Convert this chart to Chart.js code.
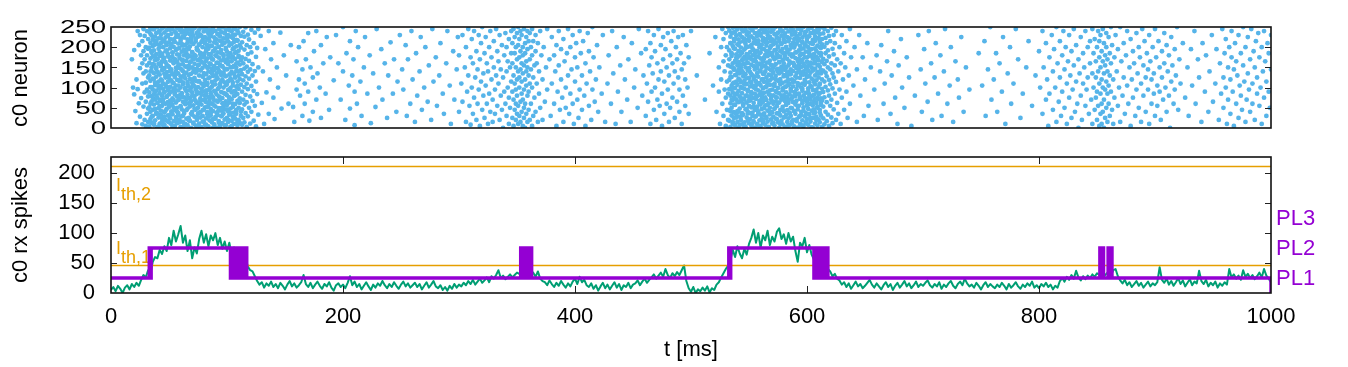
<!DOCTYPE html>
<html>
<head>
<meta charset="utf-8">
<script src="https://cdn.jsdelivr.net/npm/chart.js@4.4.0/dist/chart.umd.min.js"></script>
<style>
  body { margin: 0; background: #fff; }
  #wrap { position: relative; width: 1348px; height: 367px; }
  canvas { position: absolute; left: 0; }
  #raster { top: 0; }
  #rx { top: 140px; }
</style>
</head>
<body>
<div id="wrap">
  <canvas id="raster" width="1348" height="140"></canvas>
  <canvas id="rx" width="1348" height="227"></canvas>
</div>
<script>
// Raster rows: [t (ms), neuron ids that spiked at t ...]
const spikesOnset = [
  [18,170],[19,100],[20,193,83],[21,42],[22,120,12],[23,240,96],[24,61,205],[25,148,28,230],[26,180,74],
  [27,9,110,215,160],[28,53,245,135,190],[29,88,20,170,228],[30,140,65,200,5,112],[31,35,180,95,240,155],
  [32,78,220,125,15,196,48]
];

const spikesBurstA = [
  [33,4,51,88,130,161,199,238],[34,22,40,101,117,172,211,247],[35,13,66,79,141,150,186,229],
  [36,30,45,95,122,177,203,219],[37,8,58,84,136,157,192,244],[38,19,70,106,112,168,214,226],
  [39,35,38,92,127,146,183,235],[40,2,62,75,139,171,207,249],[41,26,49,99,115,159,196,222],
  [42,11,67,86,132,178,188,240],[43,33,43,104,120,153,210,231],[44,16,55,80,143,165,181,246],
  [45,6,71,97,110,174,200,217],[46,28,39,89,134,148,215,236],[47,20,60,107,125,163,190,224],
  [48,1,47,77,138,156,205,242],[49,31,64,94,114,179,184,228],[50,14,52,83,129,151,212,250],
  [51,24,68,102,142,167,197,220],[52,9,41,90,118,145,208,233],[53,34,57,73,133,176,187,245],
  [54,17,69,98,111,160,201,218],[55,5,44,87,126,170,213,239],[56,27,63,105,140,149,193,225],
  [57,12,50,78,119,164,182,248],[58,32,37,93,135,155,209,230],[59,21,72,81,116,173,198,243],
  [60,3,54,100,128,147,216,221],[61,29,46,85,144,169,189,237],[62,15,65,108,113,158,204,227],
  [63,36,42,76,131,180,194,241],[64,10,59,96,123,152,206,232],[65,23,70,91,137,166,185,249],
  [66,7,48,82,109,175,211,219],[67,25,61,103,146,154,195,234],[68,18,53,74,121,162,202,244],
  [69,0,66,99,134,177,217,223],[70,33,40,88,112,150,188,238],[71,13,56,106,139,171,208,229],
  [72,28,71,79,124,159,181,247],[73,6,45,95,117,178,214,220],[74,20,62,84,141,146,199,235],
  [75,35,50,101,115,168,192,226],[76,11,38,87,130,157,207,243],[77,26,67,73,143,173,186,231],
  [78,2,58,97,110,164,213,250],[79,30,44,90,127,149,200,218],[80,16,69,104,136,179,184,239],
  [81,8,51,80,119,155,210,225],[82,24,64,93,133,166,191,246],[83,34,39,107,111,172,205,221],
  [84,4,55,77,140,151,196,233],[85,19,72,98,125,160,215,242],[86,31,47,86,138,176,183,228],
  [87,14,60,102,114,147,203,236],[88,22,42,75,129,169,190,248],[89,9,68,92,144,153,212,224],
  [90,27,53,108,118,180,197,240],[91,1,37,83,135,161,209,219],[92,32,65,96,122,148,187,232],
  [93,17,49,78,142,174,201,245],[94,5,70,103,109,156,216,227],[95,29,43,89,131,167,193,237],
  [96,12,61,74,120,152,206,249],[97,36,54,100,137,178,182,222],[98,21,46,85,113,145,211,234],
  [99,7,66,106,128,163,198,243],[100,25,57,81,145,170,189,220],[101,15,41,94,116,158,214,230],
  [102,33,63,76,132,175,204,246],[103,3,48,99,123,150,185,226],[104,18,71,88,139,165,208,239],
  [105,28,52,105,112,177,195,223],[106,10,38,79,134,154,213,247],[107,23,59,91,126,171,186,231],
  [108,35,45,102,141,149,202,218],[109,6,67,84,115,162,217,241],[110,20,50,97,130,179,191,235],
  [111,13,62,73,121,157,205,250],[112,30,40,107,143,168,199,228],
  [113,8,46,90,133,175,212],[114,25,70,118,160,238],[115,14,58,101,147,194,226],[116,37,82,128,171,249],
  [117,3,64,110,152,205],[118,29,96,139,183,231],[119,50,122,166,219],[120,11,78,145,200],
  [121,40,104,187,243],[122,67,130,158],[123,18,92,210],[124,55,141,236],[125,4,115,176],
  [126,84,198],[127,33,150,245]
];

// second group of spikes inside the first burst
const spikesBurstAFill = [
  [34,60,140,233],[35,28,101,190],[36,75,158,245],[37,12,121,205],[38,47,92,178],[39,81,150,215],
  [40,36,108,170],[41,4,135,238],[42,55,97,200],[43,70,160,222],[44,24,117,184],[45,62,145,249],
  [46,9,88,173],[47,43,129,211],[48,78,102,192],[49,17,154,230],[50,58,124,176],[51,33,90,243],
  [52,66,139,203],[53,2,112,186],[54,50,163,219],[55,83,96,170],[56,21,133,235],[57,40,148,196],
  [58,69,105,226],[59,14,157,181],[60,53,119,247],[61,77,86,208],[62,30,141,168],[63,6,126,224],
  [64,63,99,189],[65,44,152,241],[66,73,114,199],[67,19,131,179],[68,57,93,232],[69,35,165,213],
  [70,80,120,187],[71,11,147,246],[72,48,103,172],[73,67,137,221],[74,26,90,194],[75,3,155,237],
  [76,59,116,206],[77,39,143,182],[78,82,97,228],[79,16,128,249],[80,45,161,175],[81,71,110,214],
  [82,8,85,197],[83,52,149,239],[84,29,123,183],[85,64,94,225],[86,38,158,204],[87,79,136,171],
  [88,1,107,244],[89,56,144,191],[90,23,89,218],[91,68,127,178],[92,41,162,233],[93,13,100,201],
  [94,76,138,248],[95,49,115,185],[96,32,153,212],[97,61,87,169],[98,7,130,236],[99,84,146,195],
  [100,46,109,227],[101,20,164,180],[102,72,95,242],[103,37,134,209],[104,5,118,174],[105,60,151,230],
  [106,27,91,198],[107,81,125,245],[108,42,159,188],[109,15,104,216],[110,65,140,176]
];

const spikesQuietA = [
  [129,228],[130,62],[131,140],[132,10],[133,195],[134,88],[136,240,35],[137,120],[138,170],[140,75,210],
  [141,22],[143,150],[144,100],[146,236],[147,48],[149,180],[151,130],[153,60],[155,205],[157,52],[158,15],
  [160,95,165],[162,200,120],[163,80],[165,145,30],[166,215],[167,110,60],[168,170],[170,235,90],[171,18],
  [172,150],[174,125,40],[175,190],[177,70,240],[178,135],[180,100],[181,205,25],[183,160],[185,85],
  [186,225],[188,45],[189,175],[192,118],[194,230],[196,160],[198,70],[200,140,250],[202,20],[203,185],
  [205,105],[206,48,215],[208,130],[209,170],[210,7,90],[211,240],[212,60],[213,200],[215,115],[216,30],
  [218,150],[219,225],[221,85],[223,180],[224,12],[226,135],[228,52],[229,245],[231,100],[233,195],
  [234,70],[236,160],[238,25],[239,130],[241,212],[243,85],[244,170],[246,40],[247,115],[249,230],
  [251,145],[252,95],[254,205],[255,30],[256,170],[258,60],[259,240],[260,120],[262,15],[263,185],
  [264,80],[266,140],[267,225],[268,45],[270,100],[271,200],[273,65],[274,155],[276,20],[277,245],
  [278,115],[280,175],[281,55],[283,130],[284,210],[286,85],[287,35],[289,160],[290,240],[292,105],
  [293,10],[295,190],[296,70],[298,145],[299,225],
  [300,40,180],[302,110],[303,230,65],[305,150],[306,15,200],[307,90],[308,245,130],[309,55],[310,175,8],
  [311,100,220],[312,35,160],[313,75,240],[314,125],[315,190,20],[316,60,145],[317,230,95],[318,5,170],
  [319,115,210],[320,45,250],[321,135,80],[322,185,25],[323,105,225],[324,160,60],[325,10,140],
  [326,200,85],[327,40,240],[328,120,175],[329,70,15],[330,215,150],[331,95,35],[332,245,130],
  [333,55,190],[334,165,110],[335,20,230],[336,80,145],[337,205,45],[338,125,0],[339,180,90],
  [340,60,235],[341,140,30,200],[342,100,165],[343,10,220,75],[344,150,50],[345,240,115,185],
  [346,25,90,160,210],[347,130,5,70,245],[348,185,45,110,225],[349,60,150,20,200,95],
  [350,235,120,35,170,80],[351,10,140,205,55,250],[352,100,175,30,220,125],[353,65,190,145,15,240],
  [354,85,160,40,230,115],[355,200,5,135,70,180],[356,25,245,95,155,50],[357,120,210,60,185,0],
  [358,165,35,105,225,140],[359,80,195,15,150,240],[360,45,130,215,90],[361,170,20,235,110],
  [362,60,145,200],[363,100,5,180,245],[364,30,125,215],[365,155,75],[366,230,40,190],[367,110,160],
  [368,15,210],[369,85,140],[370,240,50],[371,180],[372,120,20],[373,200],[374,65],[375,150],[376,245,95],
  [378,170],[379,30],[380,110,225],[382,60,180],[383,140],[384,5,205],[385,90],[386,155,240],[387,45],
  [388,120,195],[389,75],[390,220,15],[391,165],[392,100,50],[393,185],[394,130,245],[395,35],
  [396,200,85],[397,145],[398,60,230],[399,10],[400,175,115],[401,210],[402,70,150],[403,25],
  [404,240,95],[405,185],[406,130,45],[407,215],[408,80],[409,160,5],[410,110],[411,235],[412,55,190],
  [413,140],[414,20],[415,95,250],[416,175],[417,65],[418,120],[419,205],[420,40],[421,150],[423,85],
  [424,230],[426,15],[428,110],[429,180],[431,60],[432,240],[433,135],[435,10],[436,200],[437,90],
  [439,155],[440,40],[442,225],[443,120],[445,70],[446,170],[448,15],[449,210],[451,100],[452,145],
  [454,50],[455,245],[457,185],[458,80],[459,130],
  [461,30,195],[462,110],[463,240,65],[464,155],[465,10,210],[466,90,175],[467,135],[468,45,230],
  [469,190,100],[470,20],[471,160,70],[472,245,120],[473,55],[474,205,140],[475,85,5],[476,170,225],
  [477,35,115],[478,195],[479,60,150],[480,235,95],[481,130,15],[482,180,50],[483,215],[484,75,160],
  [485,110,240],[486,25,140],[487,200],[488,65,170],[489,125,225],[490,40,95],[491,185],[492,145,10],
  [493,230,80],[494,160],[495,55,120],[496,205],[497,100],[498,35,175],[500,240],
  [505,130],[512,70],[516,185],[519,105],[521,225],[522,40],[524,150,90],[525,10],[526,200,120],
  [527,60,245],[528,165,30,220]
];

const spikesBurstB = [
  [529,95,140],[530,5,180,75,235],[531,115,45,200],[532,155,20,250,85],
  [533,18,44,96,119,170,192,241],[534,3,61,80,137,152,210,226],[535,31,50,104,126,178,185,234],
  [536,11,69,88,110,160,203,248],[537,25,39,75,144,147,214,220],[538,7,57,99,131,166,196,238],
  [539,34,71,83,115,174,182,229],[540,15,42,107,139,155,207,244],[541,0,64,92,122,163,190,219],
  [542,28,48,78,135,179,212,232],[543,20,66,101,113,149,199,250],[544,9,37,86,141,168,186,225],
  [545,33,59,72,128,158,215,239],[546,14,70,97,117,176,194,221],[547,4,46,108,133,150,208,245],
  [548,26,63,81,109,171,183,231],[549,36,40,94,143,161,201,218],[550,12,55,77,124,146,216,236],
  [551,22,68,103,138,173,188,247],[552,6,51,89,112,157,205,227],[553,30,38,74,130,180,197,242],
  [554,17,62,100,121,153,211,222],[555,1,45,85,145,169,184,235],[556,29,72,106,116,164,209,249],
  [557,10,53,79,136,148,191,228],[558,35,41,93,127,177,213,217],[559,19,67,82,111,159,200,240],
  [560,5,58,105,142,172,187,233],[561,24,47,73,120,151,206,246],[562,13,65,98,134,165,216,223],
  [563,32,36,87,114,175,195,237],[564,8,56,76,140,154,181,244],[565,27,69,102,125,162,204,220],
  [566,16,43,90,108,178,212,230],[567,2,61,84,132,147,189,248],[568,34,50,107,118,167,198,226],
  [569,21,71,78,143,156,215,238],[570,11,39,95,123,180,186,219],[571,28,60,81,137,150,207,243],
  [572,6,48,104,110,170,193,232],[573,23,66,91,129,158,210,250],[574,36,54,75,144,174,183,224],
  [575,14,37,99,117,146,202,236],[576,0,63,86,135,163,214,221],[577,31,45,108,121,176,190,245],
  [578,18,70,80,139,152,208,229],[579,9,52,93,112,168,196,240],[580,26,41,73,131,160,185,218],
  [581,3,67,101,144,179,213,234],[582,33,57,88,115,149,201,247],[583,15,44,77,127,171,188,225],
  [584,24,62,106,138,155,216,239],[585,7,38,83,109,165,194,222],[586,30,71,97,133,145,205,249],
  [587,12,49,74,120,177,182,231],[588,20,64,103,141,161,211,243],[589,4,42,89,116,153,199,220],
  [590,35,58,79,128,173,187,237],[591,17,68,96,136,148,209,228],[592,1,46,105,111,166,215,246],
  [593,27,55,85,143,157,192,219],[594,10,72,76,124,180,203,233],[595,32,40,100,132,151,184,242],
  [596,19,61,92,110,169,212,224],[597,5,51,81,140,159,197,250],[598,29,69,107,119,175,206,230],
  [599,13,37,87,134,146,189,238],[600,22,65,72,126,164,214,221],[601,8,47,98,142,154,200,244],
  [602,34,59,84,113,178,185,227],[603,16,70,104,137,162,210,235],[604,2,43,78,122,150,195,248],
  [605,25,56,94,145,172,208,218],[606,36,66,82,114,160,183,240],[607,11,39,108,130,147,216,226],
  [608,28,62,90,118,176,191,237],[609,6,50,75,139,156,204,245],[610,21,71,101,125,168,186,223],
  [611,14,45,86,109,152,213,232],[612,31,57,73,135,179,198,249],[613,3,68,97,120,163,207,220],
  [614,24,53,89,142,171,234],[615,9,76,115,158,201,245],[616,40,102,137,185,223],[617,17,64,128,166,210],
  [618,33,93,150,192,240],[619,5,80,119,177,228],[620,55,108,145,215],[621,26,70,160,248],
  [622,12,98,135,196],[623,46,125,182,230],[624,85,155,210],[625,20,114,240],[626,62,170],[627,140,35],
  [628,200,95],[629,10,160],[630,230,75],[631,120],[632,45,185],[633,150],[634,215,90],[635,25],
  [636,130],[637,245,60],[638,175],[640,105],[641,200],[643,15,145]
];

// second group of spikes inside the second burst
const spikesBurstBFill = [
  [534,42,126,210],[535,70,95,183],[536,15,150,236],[537,58,112,197],[538,83,163,220],[539,26,131,249],
  [540,65,87,174],[541,40,145,205],[542,8,119,231],[543,74,156,188],[544,31,99,243],[545,55,137,171],
  [546,2,108,214],[547,79,160,198],[548,47,123,238],[549,19,91,180],[550,68,148,225],[551,37,115,202],
  [552,84,133,170],[553,11,104,247],[554,52,166,193],[555,28,127,218],[556,76,96,176],[557,44,154,235],
  [558,6,110,207],[559,61,140,185],[560,33,89,229],[561,80,158,196],[562,18,121,244],[563,49,134,172],
  [564,71,101,212],[565,24,149,190],[566,57,116,237],[567,3,162,181],[568,82,93,222],[569,39,130,203],
  [570,66,143,246],[571,13,106,175],[572,48,155,216],[573,77,120,192],[574,22,88,233],[575,63,139,199],
  [576,35,163,177],[577,9,111,241],[578,73,147,209],[579,45,98,186],[580,81,128,226],[581,27,152,173],
  [582,59,103,249],[583,4,136,194],[584,69,119,215],[585,36,160,182],[586,50,92,239],[587,16,141,200],
  [588,78,114,178],[589,41,157,232],[590,64,86,206],[591,21,125,187],[592,54,151,224],[593,84,107,171],
  [594,30,138,245],[595,7,164,196],[596,67,97,213],[597,43,132,183],[598,75,153,236],[599,12,113,204],
  [600,56,146,175],[601,34,90,227],[602,79,129,192],[603,25,159,248],[604,60,102,210],[605,1,142,180],
  [606,46,117,234],[607,72,165,197],[608,20,94,221],[609,53,135,173],[610,83,156,242],[611,38,109,200],
  [612,62,144,185]
];

const spikesQuietB = [
  [645,230],[646,80],[648,175],[649,30],[650,120],[652,210],[653,55],[655,150],[658,95],[660,180],
  [661,20],[663,140],[664,205],[666,60],[667,110],[669,165],[670,240],[672,35],[673,130],[675,190],
  [676,75],[678,10],[679,155],[681,220],[682,100],[684,50],[686,175],[688,125],[690,5],[693,80],
  [696,230],[698,145],[699,40],[701,195],[702,110],[704,65],[705,240],[707,160],[708,20],[710,125],
  [711,210],[713,85],[715,180],[716,30],[718,140],[719,245],[721,60],[723,105],[724,200],[726,15],
  [728,165],[730,120],[731,75],[733,225],[735,40],[737,150],[740,95],[748,185],[751,105],[753,215],
  [754,30],[756,145],[758,250],[759,70],[761,120],[763,185],[764,40],[766,160],[768,90],[769,225],
  [771,10],[773,135],[775,200],[776,60],[778,110],[780,245],[782,170],[784,25],[786,85],[789,150],
  [791,215],[794,55],[797,130],
  [800,190],[801,100],[803,240,35],[804,150],[806,70,210],[807,120],[808,5],[809,175,85],[811,230],
  [812,45,140],[813,195],[814,100],[815,15,250],[816,160],[817,65],[818,215,125],[819,30],[820,180,90],
  [821,240],[822,50,145],[823,200],[824,110,10],[825,165],[826,75,230],[827,130],[828,25,190],[829,95],
  [830,155,245],[831,40],[832,205,115],[833,60],[834,170,0],[835,135],[836,225,80],[837,20],
  [838,185,110],[839,150],[840,55,240],[841,95],[842,200,125],[843,35],[844,160,215],[845,70],
  [846,135,10,245],[847,100,185],[848,45,220],[849,165,75,125],[850,20,200,90],[851,140,240,55],
  [852,110,175,5,215],[853,85,150,35,230],[854,190,60,120,10],[855,245,100,165,40],[856,70,210,135,0],
  [857,180,25,95,155],[858,115,235,50,200],[859,15,140,85,170],[860,225,60,105],[861,185,30,130],
  [862,90,250,160],[863,45,205],[864,120,10],[865,175,75],
  [866,230],[867,140],[868,55,195],[869,100],[870,15,250],[871,165],[872,80],[873,210,125],[874,35],
  [875,180],[876,105,240],[877,60],[878,150],[879,5,220],[880,120],[881,75,190],[882,160],[883,30],
  [884,235,95],[885,135],[886,50,200],[887,175],[888,110,15],[889,245],[890,80,155],[891,215],
  [892,125,40],[893,185],[894,95,145],[895,230,10],[896,165],[897,60,120],[898,200],[899,135,85],
  [900,245,30],[901,175],[902,105,55],[903,215],[904,150,90],[905,20],[906,190,125],[907,70],
  [908,235,160],[909,100],[910,40,205],[911,140],[912,80,180],[913,0],[914,225,115],[915,155],[916,60],
  [917,195,95],[918,130],[919,250],[920,45],[921,170],[922,110],[924,210],
  [926,75],[928,150],[929,30],[931,195],[932,105],[934,240],[935,60],[937,170],[938,125],[940,15],
  [941,210],[943,90],[944,180],[946,40],[947,140],[949,230],[950,65],[952,110],[953,195],[955,20],
  [956,160],[957,85],[958,245],[959,125,50],[960,185],[961,100,220],[962,10],[963,150,70],[964,200],
  [965,120,35],[966,240,175],[967,90],[968,145,5],[969,210],[970,60,165],[971,130],[972,230,25],
  [973,105],[974,185,80],[975,45],[976,155,250],[977,115],[978,200,15],[979,70],[980,135,225],
  [981,95],[982,170,40],[983,245],[984,110,60],[985,190],[986,20,150],[987,215],[988,85,125],
  [989,235],[990,55,175],[991,100],[992,200,10],[993,140],[994,75,240],[995,165],[996,30,115],
  [997,210],[998,90,185],[999,50],[1000,145,230]
];

// c0 rx spikes, sampled every 2 ms from t = 0
const rxStartMs = 0;
const rxStepMs = 2;
const rxSpikes = [
  5, 10, 3, 12, 7, 0, 9, 13, 6, 15, 10, 17, 12,          // 0-24
  22, 30, 26, 38, 33, 52, 60,                             // 26-38
  58, 72, 65, 78, 70, 92,                                 // 40-50
  80, 104, 86, 98, 112, 84,                               // 52-62
  96, 70, 88, 58, 76, 66,                                 // 64-74
  90, 104, 84, 98, 78, 96,                                // 76-86
  88, 100, 80, 92, 74, 86,                                // 88-98
  70, 84, 64, 76, 58, 66,                                 // 100-110
  62, 50, 58, 44, 38, 36, 28,                             // 112-124
  20, 14, 18, 9, 16, 12, 19, 10,                          // 126-140
  15, 8, 17, 12, 6, 14, 20, 11, 16, 9,                    // 142-160
  13, 18, 30, 15, 10, 17, 8, 14, 19, 12,                  // 162-180
  7, 15, 11, 18, 9, 4, 13, 16, 10, 14,                    // 182-200
  8, 17, 28, 13, 19, 10, 15, 6, 12, 18,                   // 202-220
  11, 5, 14, 9, 16, 12, 20, 13, 8, 15,                    // 222-240
  10, 18, 12, 7, 14, 19, 11, 16, 9, 13,                   // 242-260
  17, 10, 15, 6, 12, 18, 9, 14, 20, 11,                   // 262-280
  8, 13, 5, 10, 4, 12, 7, 15, 9, 14,                      // 282-300
  11, 17, 13, 20, 15, 22, 14, 19, 24, 17,                 // 302-320
  21, 26, 18, 28, 24, 30, 38, 25, 29, 23,                 // 322-340
  27, 31, 26, 30, 34,                                     // 342-350
  32, 28, 35, 30, 33, 29,                                 // 352-362
  34, 27, 36, 24, 20,                                     // 364-372
  18, 13, 21, 15, 10, 17, 12, 20, 14, 9, 16, 11, 19,      // 374-398
  24, 15, 27, 18, 22, 13,                                 // 400-410
  10, 16, 7, 13, 4, 11, 17, 8, 14, 6, 12, 18, 9, 15, 5, 13, 10, 17, 8, 14,   // 412-450
  16, 21, 13, 19, 24, 17, 22,                             // 452-464
  26, 31, 24, 29, 34, 27, 40, 30, 25, 33, 28, 35, 30, 38, 46,                 // 466-494
  20, 8, 2, 10, 0, 6, 3, 9,                               // 496-510
  4, 11, 1, 8, 5, 14,                                     // 512-522
  18, 26, 33, 40, 46, 55,                                 // 524-534
  72, 60, 78, 66, 58, 74, 64, 82,                         // 536-550
  92, 106, 84, 100, 76, 96, 88, 104, 80, 94, 86, 102,     // 552-574
  108, 90, 98, 82, 100, 86, 94,                           // 576-588
  70, 52, 84, 78, 92, 68, 80, 64,                         // 590-604
  56, 62, 48, 44, 38, 34, 40,                             // 606-618
  36, 28, 32, 24, 21,                                     // 620-628
  14, 18, 10, 16, 7, 13, 19, 11, 15, 8, 12, 17, 22, 14, 9, 16, 11, 6,
  13, 18, 10, 15, 5, 12, 17, 9, 14, 20, 11, 16, 8, 13, 19, 10, 15, 12,        // 630-700
  17, 21, 13, 9, 15, 11, 18, 7, 14, 10, 16, 20, 12, 8, 15,
  19, 13, 24, 16, 11, 14, 9, 17, 12, 6, 13, 18, 10, 15, 11,                   // 702-760
  8, 14, 10, 17, 12, 6, 15, 9, 13, 18, 11, 7, 14, 10,
  16, 12, 19, 9, 13, 8, 15, 11, 17, 10, 14, 6, 12, 9,                         // 762-816
  20, 25, 19, 27, 22, 30, 24, 37, 26, 21, 28, 23, 29, 25, 31, 27, 33,         // 818-850
  30, 34, 28, 32, 36, 29, 38,                             // 852-864
  40, 28, 21, 16, 22, 13, 18, 10, 15, 20, 12, 17, 9, 14, 19, 11, 16, 13, 18,  // 866-902
  43, 22, 17, 24, 14, 20, 12, 18, 25, 15, 21, 11, 17, 23, 13, 19, 16,         // 904-936
  37, 20, 15, 22, 11, 17, 13, 19, 9, 16, 12, 18, 14,      // 938-962
  40, 26, 31, 24, 29, 22, 38, 27, 32, 25, 30, 23, 28, 34, 26, 40, 29, 24, 18  // 964-1000
];

// plasticity level switches: time (ms) at which the level starts, and the level value
const plSwitchTimes = [
  0, 33, 33.8, 34.6,
  103, 104, 105, 106, 107, 108, 109, 110, 111, 112, 113, 114, 115, 116, 117,
  353.2, 354.3, 355.4, 356.5, 357.6, 358.7, 359.8, 360.9, 362, 362.6,
  532.6, 533.4, 534.2,
  606, 607, 608, 609, 610, 611, 612, 613, 614, 615, 616, 617, 618,
  852.5, 853.7, 854.9, 855.6, 859.6, 860.7, 861.8, 862.9,
  1000
];
const plSwitchValues = [
  25, 75, 25, 75,
  25, 75, 25, 75, 25, 75, 25, 75, 25, 75, 25, 75, 25, 75, 25,
  75, 25, 75, 25, 75, 25, 75, 25, 75, 25,
  75, 25, 75,
  25, 75, 25, 75, 25, 75, 25, 75, 25, 75, 25, 75, 25,
  75, 25, 75, 25, 75, 25, 75, 25,
  0
];

const plLevels = [25, 75, 125];
const plLabels = ['PL1', 'PL2', 'PL3'];
const thresholdValues = [46, 211];
const thresholdSubs = ['th,1', 'th,2'];

const rasterTicks = [0, 50, 100, 150, 200, 250];
const rxYTicks = [50, 100, 150, 200];

const COL_RASTER = '#56b4e9';
const COL_RX = '#009e73';
const COL_TH = '#e69f00';
const COL_PL = '#9400d3';
const FONT = "'Liberation Sans', Arial, Helvetica, sans-serif";

Chart.defaults.font.family = FONT;
Chart.defaults.color = '#000';

function rowsToPoints(rows) {
  return rows.flatMap(row => row.slice(1).map(n => ({ x: row[0], y: n })));
}

const rasterPoints = [spikesOnset, spikesBurstA, spikesBurstAFill, spikesQuietA,
  spikesBurstB, spikesBurstBFill, spikesQuietB].flatMap(rowsToPoints);

// inward tick marks and the border, gnuplot style
function drawFrame(chart, xTickValues, yTickValues) {
  const { ctx, chartArea: a } = chart;
  const xs = chart.scales.x, ys = chart.scales.y;
  ctx.save();
  ctx.strokeStyle = '#222';
  ctx.lineWidth = 1;
  ctx.beginPath();
  xTickValues.forEach(v => {
    const px = Math.round(xs.getPixelForValue(v)) + 0.5;
    ctx.moveTo(px, a.bottom); ctx.lineTo(px, a.bottom - 7);
    ctx.moveTo(px, a.top); ctx.lineTo(px, a.top + 7);
  });
  yTickValues.forEach(v => {
    const py = Math.round(ys.getPixelForValue(v)) + 0.5;
    ctx.moveTo(a.left, py); ctx.lineTo(a.left + 6, py);
    ctx.moveTo(a.right, py); ctx.lineTo(a.right - 6, py);
  });
  ctx.stroke();
  ctx.strokeStyle = '#111';
  ctx.lineWidth = 1.6;
  ctx.strokeRect(a.left, a.top, a.right - a.left, a.bottom - a.top);
  ctx.restore();
}

function drawVerticalTitle(ctx, text, x, y) {
  ctx.save();
  ctx.translate(x, y);
  ctx.rotate(-Math.PI / 2);
  ctx.font = '22px ' + FONT;
  ctx.fillStyle = '#000';
  ctx.textAlign = 'center';
  ctx.textBaseline = 'middle';
  ctx.fillText(text, 0, 0);
  ctx.restore();
}

const rasterDecor = {
  id: 'rasterDecor',
  afterDraw(chart) {
    const ctx = chart.ctx;
    drawFrame(chart, [], [50, 100, 150, 200]);
    // tick labels of the raster panel are drawn wider than normal
    ctx.save();
    ctx.font = '19px ' + FONT;
    ctx.fillStyle = '#000';
    ctx.textAlign = 'right';
    ctx.textBaseline = 'middle';
    rasterTicks.forEach(v => {
      ctx.save();
      ctx.translate(106, chart.scales.y.getPixelForValue(v));
      ctx.scale(1.45, 1);
      ctx.fillText(String(v), 0, 1);
      ctx.restore();
    });
    ctx.restore();
    drawVerticalTitle(ctx, 'c0 neuron', 21, 78);
  }
};

const rxDecor = {
  id: 'rxDecor',
  beforeDatasetsDraw(chart) {
    const ctx = chart.ctx, ys = chart.scales.y;
    ctx.save();
    ctx.fillStyle = COL_TH;
    ctx.font = '18px ' + FONT;
    ctx.textBaseline = 'alphabetic';
    // I_th,1 sits just above its line, I_th,2 just below its line
    const offsets = [[-11, -2], [24, 33]];
    thresholdValues.forEach((v, i) => {
      const y = ys.getPixelForValue(v);
      ctx.fillText('I', 116, y + offsets[i][0]);
      const w = ctx.measureText('I').width;
      ctx.fillText(thresholdSubs[i], 116 + w, y + offsets[i][1]);
    });
    ctx.restore();
  },
  afterDatasetsDraw(chart) {
    const ctx = chart.ctx, ys = chart.scales.y;
    drawFrame(chart, [200, 400, 600, 800], rxYTicks);
    ctx.save();
    ctx.fillStyle = COL_PL;
    ctx.font = '22px ' + FONT;
    ctx.textAlign = 'left';
    ctx.textBaseline = 'middle';
    plLevels.forEach((v, i) => ctx.fillText(plLabels[i], 1276, ys.getPixelForValue(v) + 1));
    ctx.restore();

    ctx.save();
    ctx.font = '22px ' + FONT;
    ctx.fillStyle = '#000';
    ctx.textAlign = 'center';
    ctx.textBaseline = 'middle';
    const a = chart.chartArea;
    ctx.fillText('t [ms]', (a.left + a.right) / 2, 210);
    ctx.restore();
    drawVerticalTitle(ctx, 'c0 rx spikes', 21, 85);
  }
};

new Chart(document.getElementById('raster'), {
  type: 'scatter',
  data: {
    datasets: [{
      data: rasterPoints,
      pointRadius: 2.4,
      pointBorderWidth: 0,
      pointBackgroundColor: COL_RASTER,
      backgroundColor: COL_RASTER,
      borderWidth: 0
    }]
  },
  options: {
    responsive: false,
    devicePixelRatio: 1,
    animation: false,
    events: [],
    layout: { padding: { top: 27, right: 77, bottom: 12, left: 0 } },
    plugins: { legend: { display: false }, tooltip: { enabled: false } },
    scales: {
      x: { type: 'linear', min: 0, max: 1000, display: false },
      y: {
        type: 'linear', min: 0, max: 250,
        ticks: { display: false },
        grid: { display: false, drawTicks: false },
        border: { display: false },
        afterFit(s) { s.width = 111; s.paddingTop = 0; s.paddingBottom = 0; }
      }
    }
  },
  plugins: [rasterDecor]
});

const rxPoints = rxSpikes.map((v, i) => ({ x: rxStartMs + i * rxStepMs, y: v }));
const plPoints = plSwitchTimes.map((t, i) => ({ x: t, y: plSwitchValues[i] }));

new Chart(document.getElementById('rx'), {
  type: 'line',
  data: {
    datasets: [
      {
        data: plPoints, stepped: 'before', borderColor: COL_PL, borderWidth: 3.5,
        pointRadius: 0, fill: false, borderCapStyle: 'butt'
      },
      ...thresholdValues.map(v => ({
        data: [{ x: 0, y: v }, { x: 1000, y: v }],
        borderColor: COL_TH, borderWidth: 1.5, pointRadius: 0, fill: false
      })),
      {
        data: rxPoints, borderColor: COL_RX, borderWidth: 2, pointRadius: 0,
        fill: false, tension: 0, borderJoinStyle: 'round'
      }
    ]
  },
  options: {
    responsive: false,
    devicePixelRatio: 1,
    animation: false,
    events: [],
    layout: { padding: { top: 17, right: 77, bottom: 0, left: 0 } },
    plugins: { legend: { display: false }, tooltip: { enabled: false } },
    scales: {
      x: {
        type: 'linear', min: 0, max: 1000,
        ticks: {
          stepSize: 200, font: { size: 22 }, color: '#000', padding: 11, maxRotation: 0, autoSkip: false,
          callback: v => String(v)
        },
        grid: { display: false, drawTicks: false },
        border: { display: false },
        afterFit(s) { s.height = 74; s.paddingLeft = 0; s.paddingRight = 0; }
      },
      y: {
        type: 'linear', min: 0, max: 227,
        ticks: { stepSize: 50, includeBounds: false, font: { size: 22 }, color: '#000', padding: 16 },
        grid: { display: false, drawTicks: false },
        border: { display: false },
        afterFit(s) { s.width = 111; s.paddingTop = 0; s.paddingBottom = 0; }
      }
    }
  },
  plugins: [rxDecor]
});
</script>
</body>
</html>
